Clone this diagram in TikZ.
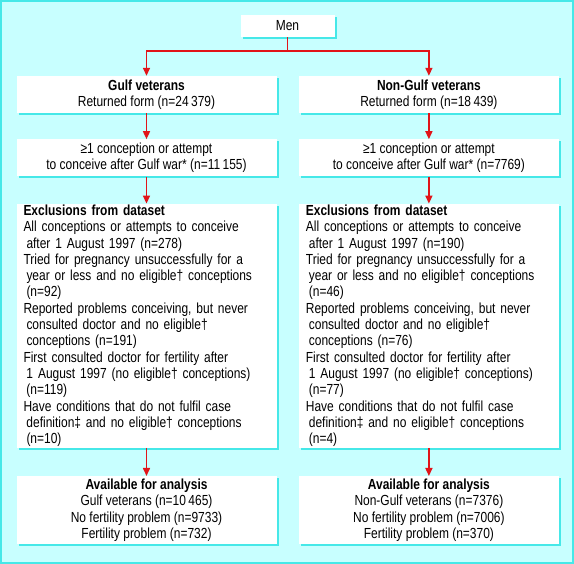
\documentclass[tikz,border=0pt]{standalone}
\usepackage{fontspec}
\setmainfont{Liberation Sans}[FakeStretch=0.82]
\usepackage{xcolor}
\usepackage{tikz}
\usetikzlibrary{
    arrows.meta,
    positioning,
    shadows
}
\definecolor{bgcyan}{RGB}{200,255,255}
\definecolor{framecyan}{RGB}{70,232,232}
\definecolor{arrowred}{RGB}{225,20,25}
\tikzstyle{box} = [
    rectangle,
    fill=white,
    inner sep=0pt,
    minimum width=260pt,
    align=center,
    drop shadow={shadow xshift=2pt, shadow yshift=-2pt,
                 fill=framecyan, opacity=1}
]
\tikzstyle{arrow} = [
    color=arrowred,
    line width=1.5pt,
    -{Triangle[length=8pt,width=7pt]}
]

\begin{document}
\begin{tikzpicture}[
    node distance=26pt and 22pt,
    font=\fontsize{14.6}{16.3}\selectfont,
    listbox/.style={
        box,
        align=left,
        text width=246pt,
        inner xsep=7pt,
        minimum height=244pt
    }
]

% Rahmen
\useasboundingbox (0,0) rectangle (574pt,-564pt);
\fill[bgcyan] (0,0) rectangle (574pt,-564pt);
\draw[framecyan, line width=2pt] (1pt,-1pt) rectangle (573pt,-563pt);

% Start
\node[box, minimum width=94pt, minimum height=22pt] (men) at (287.5pt,-26pt) {Men};

% Gruppen
\node[box, minimum height=37pt] (gulf) at (146.5pt,-94.5pt) {
    \textbf{Gulf veterans} \\
    Returned form (n=24\,379)
};

\node[box, minimum height=37pt, right=of gulf] (nongulf) {
    \textbf{Non-Gulf veterans} \\
    Returned form (n=18\,439)
};

\node[box, minimum height=37pt, below=of gulf] (gulfconc) {
    ≥1 conception or attempt \\
    to conceive after Gulf war* (n=11\,155)
};

\node[box, minimum height=37pt, below=of nongulf] (nongulfconc) {
    ≥1 conception or attempt \\
    to conceive after Gulf war* (n=7769)
};

% Ausschluesse
\node[listbox, below=27pt of gulfconc] (gulfexcl) {
    \textbf{Exclusions from dataset} \\
    All conceptions or attempts to conceive \\
    \hspace*{3pt}after 1 August 1997 (n=278) \\
    Tried for pregnancy unsuccessfully for a \\
    \hspace*{3pt}year or less and no eligible† conceptions \\
    \hspace*{3pt}(n=92) \\
    Reported problems conceiving, but never \\
    \hspace*{3pt}consulted doctor and no eligible† \\
    \hspace*{3pt}conceptions (n=191) \\
    First consulted doctor for fertility after \\
    \hspace*{3pt}1 August 1997 (no eligible† conceptions) \\
    \hspace*{3pt}(n=119) \\
    Have conditions that do not fulfil case \\
    \hspace*{3pt}definition‡ and no eligible† conceptions \\
    \hspace*{3pt}(n=10)
};

\node[listbox, below=27pt of nongulfconc] (nongulfexcl) {
    \textbf{Exclusions from dataset} \\
    All conceptions or attempts to conceive \\
    \hspace*{3pt}after 1 August 1997 (n=190) \\
    Tried for pregnancy unsuccessfully for a \\
    \hspace*{3pt}year or less and no eligible† conceptions \\
    \hspace*{3pt}(n=46) \\
    Reported problems conceiving, but never \\
    \hspace*{3pt}consulted doctor and no eligible† \\
    \hspace*{3pt}conceptions (n=76) \\
    First consulted doctor for fertility after \\
    \hspace*{3pt}1 August 1997 (no eligible† conceptions) \\
    \hspace*{3pt}(n=77) \\
    Have conditions that do not fulfil case \\
    \hspace*{3pt}definition‡ and no eligible† conceptions \\
    \hspace*{3pt}(n=4)
};

% Analyse
\node[box, minimum height=68pt, below=28pt of gulfexcl] (gulfavail) {
    \textbf{Available for analysis} \\
    Gulf veterans (n=10\,465) \\
    No fertility problem (n=9733) \\
    Fertility problem (n=732)
};

\node[box, minimum height=68pt, below=28pt of nongulfexcl] (nongulfavail) {
    \textbf{Available for analysis} \\
    Non-Gulf veterans (n=7376) \\
    No fertility problem (n=7006) \\
    Fertility problem (n=370)
};

% Pfeile
\draw[arrow] (men.south) -- ++(0,-14pt) -| (gulf.north);
\draw[arrow] (men.south) -- ++(0,-14pt) -| (nongulf.north);
\draw[arrow] (gulf) -- (gulfconc);
\draw[arrow] (nongulf) -- (nongulfconc);
\draw[arrow] (gulfconc) -- (gulfexcl);
\draw[arrow] (nongulfconc) -- (nongulfexcl);
\draw[arrow] (gulfexcl) -- (gulfavail);
\draw[arrow] (nongulfexcl) -- (nongulfavail);

\end{tikzpicture}
\end{document}
